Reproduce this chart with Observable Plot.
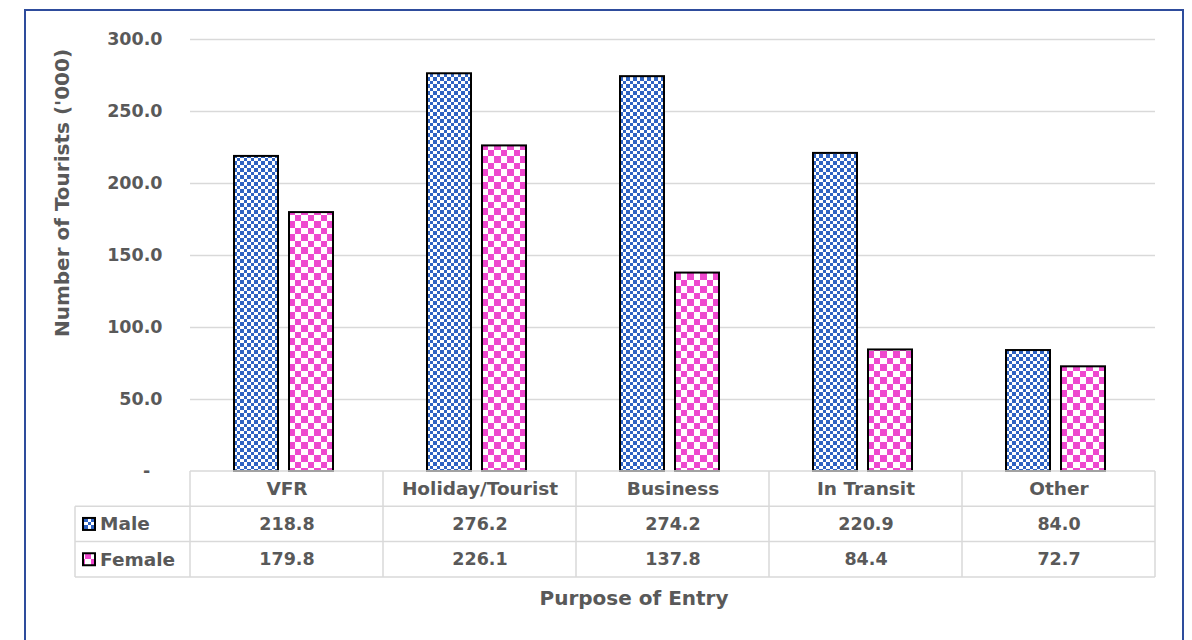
<!DOCTYPE html>
<html>
<head>
<meta charset="utf-8">
<script src="https://cdn.jsdelivr.net/npm/d3@7"></script>
<script src="https://cdn.jsdelivr.net/npm/@observablehq/plot@0.6"></script>
<style>
  html, body { margin: 0; padding: 0; background: #ffffff; width: 1192px; height: 640px; overflow: hidden; }
  #frame { position: absolute; left: 24px; top: 9px; width: 1160px; height: 700px; border: 2.5px solid #2E4C9C; box-sizing: border-box; }
  #chart { position: absolute; left: 0; top: 0; }
</style>
</head>
<body>
<div id="frame"></div>
<div id="chart"></div>
<script>
const categories = ["VFR", "Holiday/Tourist", "Business", "In Transit", "Other"];
const series = ["Male", "Female"];
const maleValues = [218.8, 276.2, 274.2, 220.9, 84.0];
const femaleValues = [179.8, 226.1, 137.8, 84.4, 72.7];
const yTicks = [0, 50, 100, 150, 200, 250, 300];
const yTitle = "Number of Tourists ('000)";
const xTitle = "Purpose of Entry";

const data = categories.flatMap((c, i) => [
  {cat: c, sex: "Male", v: maleValues[i]},
  {cat: c, sex: "Female", v: femaleValues[i]}
]);

const textColor = "#595959";
const gridColor = "#D9D9D9";
const font = "DejaVu Sans";
const rowH = 35.3;

const chart = Plot.plot({
  width: 1192,
  height: 640,
  marginLeft: 188,
  marginRight: 35,
  marginTop: 39,
  marginBottom: 169,
  style: {fontFamily: font, fontWeight: "bold", fontSize: "17.5px", color: textColor, background: "transparent", overflow: "visible"},
  fx: {domain: categories, padding: 0, axis: null},
  x: {domain: series, paddingInner: 0.196, paddingOuter: 0.83, align: 0.473, axis: null},
  y: {domain: [0, 300], axis: null},
  marks: [
    Plot.gridY(yTicks.filter(t => t > 0), {stroke: gridColor, strokeOpacity: 1, strokeWidth: 1.5}),
    Plot.axisY(yTicks, {tickSize: 0, tickPadding: 28, fill: textColor, label: null,
      tickFormat: d => d === 0 ? "-\u00a0\u00a0" : d.toFixed(1)}),
    Plot.barY(data.filter(d => d.sex === "Male"), {fx: "cat", x: "sex", y: "v", fill: "url(#patMale)", stroke: "#000", strokeWidth: 2}),
    Plot.barY(data.filter(d => d.sex === "Female"), {fx: "cat", x: "sex", y: "v", fill: "url(#patFemale)", stroke: "#000", strokeWidth: 2}),
    Plot.text(categories, {fx: d => d, frameAnchor: "bottom", lineAnchor: "middle", dy: rowH * 0.5, text: d => d, fill: textColor, fontSize: 18.5}),
    Plot.text(data.filter(d => d.sex === "Male"), {fx: "cat", frameAnchor: "bottom", lineAnchor: "middle", dy: rowH * 1.5, text: d => d.v.toFixed(1), fill: textColor}),
    Plot.text(data.filter(d => d.sex === "Female"), {fx: "cat", frameAnchor: "bottom", lineAnchor: "middle", dy: rowH * 2.5, text: d => d.v.toFixed(1), fill: textColor})
  ]
});

document.getElementById("chart").appendChild(chart);

const svg = d3.select(chart);
const defs = svg.insert("defs", ":first-child");
function checker(id, cell, color) {
  const p = defs.append("pattern").attr("id", id).attr("patternUnits", "userSpaceOnUse")
    .attr("width", cell * 2).attr("height", cell * 2);
  p.append("rect").attr("width", cell * 2).attr("height", cell * 2).attr("fill", "#fff");
  p.append("rect").attr("width", cell).attr("height", cell).attr("fill", color).attr("shape-rendering", "crispEdges");
  p.append("rect").attr("x", cell).attr("y", cell).attr("width", cell).attr("height", cell).attr("fill", color).attr("shape-rendering", "crispEdges");
}
checker("patMale", 3.5, "#2F63C2");
checker("patFemale", 6.5, "#EE48CE");

// data table lines, positioned via the plot's scales
const fx = chart.scale("fx");
const yS = chart.scale("y");
const y0 = yS.apply(0);
const xLeft = fx.apply(categories[0]);
const xRight = fx.apply(categories[categories.length - 1]) + fx.bandwidth;
const tableLeft = 75;
const g = svg.append("g").attr("stroke", gridColor).attr("stroke-width", 1.5).attr("fill", "none");
g.append("line").attr("x1", xLeft).attr("x2", xRight).attr("y1", y0).attr("y2", y0);
for (let r = 1; r <= 3; r++) {
  g.append("line").attr("x1", tableLeft).attr("x2", xRight).attr("y1", y0 + r * rowH).attr("y2", y0 + r * rowH);
}
const edges = categories.map(c => fx.apply(c)).concat([xRight]);
edges.forEach(x => g.append("line").attr("x1", x).attr("x2", x).attr("y1", y0).attr("y2", y0 + 3 * rowH));
g.append("line").attr("x1", tableLeft).attr("x2", tableLeft).attr("y1", y0 + rowH).attr("y2", y0 + 3 * rowH);

// row labels with legend keys
const rows = svg.append("g");
series.forEach((s, i) => {
  const cy = y0 + (i + 1.5) * rowH;
  rows.append("rect").attr("x", 83).attr("y", cy - 6).attr("width", 12).attr("height", 12)
    .attr("fill", i === 0 ? "url(#patMale)" : "url(#patFemale)").attr("stroke", "#000").attr("stroke-width", 2);
  rows.append("text").attr("x", 100).attr("y", cy).attr("dy", "0.35em").attr("text-anchor", "start")
    .attr("fill", textColor).attr("font-family", font).attr("font-weight", "bold").attr("font-size", 18.5)
    .text(s);
});

// axis titles
svg.append("text").attr("transform", `translate(62,${(yS.apply(300) + yS.apply(100)) / 2 + 10}) rotate(-90)`)
  .attr("text-anchor", "middle").attr("dy", "0.35em")
  .attr("fill", textColor).attr("font-family", font).attr("font-weight", "bold").attr("font-size", 20)
  .text(yTitle);
svg.append("text").attr("x", 634).attr("y", 598).attr("dy", "0.35em").attr("text-anchor", "middle")
  .attr("fill", textColor).attr("font-family", font).attr("font-weight", "bold").attr("font-size", 20)
  .text(xTitle);
</script>
</body>
</html>
